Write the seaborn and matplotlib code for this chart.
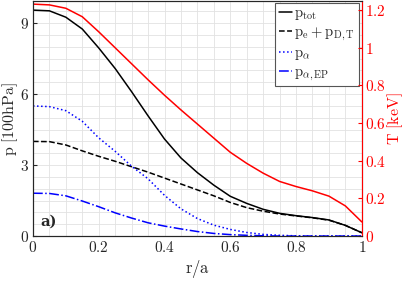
import numpy as np
import pandas as pd
import matplotlib
matplotlib.use("Agg")
import matplotlib.pyplot as plt
from matplotlib.ticker import FuncFormatter, MultipleLocator
import seaborn as sns

# radial profiles
r = [0, 0.05, 0.1, 0.15, 0.2, 0.25, 0.3, 0.35, 0.4, 0.45, 0.5,
     0.55, 0.6, 0.65, 0.7, 0.75, 0.8, 0.85, 0.9, 0.95, 1.0]
p_tot = [9.55, 9.52, 9.25, 8.75, 7.95, 7.08, 6.1, 5.08, 4.1, 3.3, 2.68,
         2.15, 1.68, 1.38, 1.13, 0.96, 0.86, 0.78, 0.68, 0.45, 0.14]
p_e_dt = [4.0, 3.99, 3.85, 3.6, 3.37, 3.16, 2.93, 2.7, 2.45, 2.2, 1.95,
          1.7, 1.42, 1.2, 1.05, 0.93, 0.85, 0.77, 0.67, 0.45, 0.14]
p_alpha = [5.5, 5.47, 5.3, 4.85, 4.15, 3.58, 2.95, 2.42, 1.72, 1.15, 0.74,
           0.46, 0.28, 0.15, 0.07, 0.03, 0.01, 0.0, 0.0, 0.0, 0.0]
p_alpha_ep = [1.81, 1.8, 1.7, 1.48, 1.24, 0.98, 0.76, 0.56, 0.42, 0.3, 0.19,
              0.11, 0.06, 0.03, 0.01, 0.0, 0.0, 0.0, 0.0, 0.0, 0.0]
T = [1.232, 1.228, 1.21, 1.165, 1.085, 1.0, 0.915, 0.83, 0.748, 0.67, 0.595,
     0.52, 0.445, 0.386, 0.334, 0.29, 0.263, 0.24, 0.212, 0.16, 0.075]

labels = [r"$\mathrm{p_{tot}}$", r"$\mathrm{p_e + p_{D,T}}$",
          r"$\mathrm{p_\alpha}$", r"$\mathrm{p_{\alpha,EP}}$"]

sns.set_style("white")
plt.rcParams["mathtext.fontset"] = "cm"
plt.rcParams["font.family"] = ["DejaVu Serif"]

df = pd.DataFrame({"r": r, "p_tot": p_tot, "p_e_dt": p_e_dt,
                   "p_alpha": p_alpha, "p_alpha_ep": p_alpha_ep, "T": T})

fig = plt.figure(figsize=(4.07, 2.81), dpi=100)
ax = fig.add_axes([0.081, 0.160, 0.808, 0.836])

styles = [("p_tot", "black", "-"), ("p_e_dt", "black", "--"),
          ("p_alpha", "blue", ":"), ("p_alpha_ep", "blue", "-.")]
for (col, c, ls), lab in zip(styles, labels):
    sns.lineplot(data=df, x="r", y=col, ax=ax, color=c, linestyle=ls,
                 lw=1.1, label=lab)

ax.set_xlim(0, 1)
ax.set_ylim(0, 9.93)
ax.xaxis.set_major_locator(MultipleLocator(0.2))
ax.xaxis.set_minor_locator(MultipleLocator(0.05))
ax.yaxis.set_major_locator(MultipleLocator(3))
ax.yaxis.set_minor_locator(MultipleLocator(0.5))
fmt = FuncFormatter(lambda v, _: f"${v:g}$")
ax.xaxis.set_major_formatter(fmt)
ax.yaxis.set_major_formatter(fmt)
ax.set_axisbelow(True)
ax.grid(True, which="both", color="#e2e2e2", lw=0.6)
ax.tick_params(which="major", direction="in", length=3, labelsize=11,
               top=False, right=False, pad=3)
ax.tick_params(which="minor", length=0)
ax.set_xlabel(r"$\mathrm{r/a}$", fontsize=12, labelpad=2)
ax.set_ylabel(r"$\mathrm{p\ [100hPa]}$", fontsize=11.5, labelpad=0)
for s in ax.spines.values():
    s.set_color("#333333")
    s.set_linewidth(0.8)

leg = ax.legend(loc="upper right", bbox_to_anchor=(0.99, 0.993),
                fontsize=10.5, handlelength=0.9, handletextpad=0.15,
                labelspacing=0.2, borderpad=0.25, borderaxespad=0,
                fancybox=False, framealpha=1, edgecolor="#555555")
leg.get_frame().set_linewidth(0.8)
ax.text(0.022, 0.045, "a)", transform=ax.transAxes, fontsize=10.5,
        fontweight="bold", family="DejaVu Serif")

ax2 = ax.twinx()
sns.lineplot(data=df, x="r", y="T", ax=ax2, color="red", linestyle="-",
             lw=1.1)
ax2.set_ylim(0, 1.248)
ax2.yaxis.set_major_locator(MultipleLocator(0.2))
ax2.yaxis.set_major_formatter(fmt)
ax2.tick_params(axis="y", direction="in", length=3, colors="red",
                labelsize=11, pad=2)
ax2.set_ylabel(r"$\mathrm{T\ [keV]}$", color="red", fontsize=11.5,
               labelpad=0)
ax2.spines["right"].set_color("red")
ax2.spines["right"].set_linewidth(0.8)
ax2.grid(False)

fig.savefig("out.png", dpi=100)
